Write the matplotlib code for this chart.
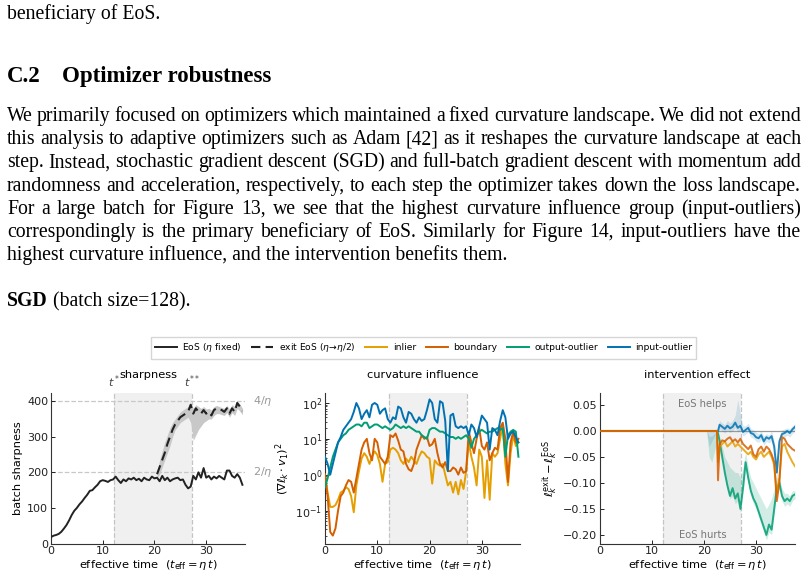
import numpy as np
import matplotlib
matplotlib.use('Agg')
import matplotlib.pyplot as plt
from matplotlib.transforms import blended_transform_factory

# ---- page text ----
heading_num = 'C.2'
heading = 'Optimizer robustness'
prev_tail = 'beneficiary of EoS.'
para_lines = [
    'We primarily focused on optimizers which maintained a fixed curvature landscape.  We did not extend',
    'this analysis to adaptive optimizers such as Adam [42] as it reshapes the curvature landscape at each',
    'step. Instead, stochastic gradient descent (SGD) and full-batch gradient descent with momentum add',
    'randomness and acceleration, respectively, to each step the optimizer takes down the loss landscape.',
    'For a large batch for Figure 13, we see that the highest curvature influence group (input-outliers)',
    'correspondingly is the primary beneficiary of EoS. Similarly for Figure 14, input-outliers have the',
    'highest curvature influence, and the intervention benefits them.',
]
caption_bold = 'SGD'
caption_rest = ' (batch size=128).'

# ---- sharpness panel ----
t_eos = np.arange(0, 37.5, 0.5)
sharp_eos = [18, 22, 24, 27, 33, 42, 52, 65, 80, 92,
             100, 110, 118, 128, 137, 148, 150, 158, 165, 175,
             178, 176, 173, 178, 180, 188, 178, 170, 180, 175,
             183, 180, 185, 178, 182, 175, 185, 180, 178, 188,
             183, 185, 175, 190, 178, 185, 175, 180, 183, 185,
             178, 180, 165, 155, 160, 190, 180, 200, 185, 212,
             185, 190, 180, 188, 183, 190, 185, 180, 205, 205,
             190, 185, 195, 185, 165]
t_exit = np.arange(20.5, 37.5, 0.5)
sharp_exit = [195, 215, 235, 255, 280, 300, 320, 335, 345, 355,
              360, 365, 370, 390, 365, 380, 370, 365, 375, 365,
              370, 360, 375, 380, 378, 375, 370, 380, 365, 380,
              370, 395, 385, 372]
sharp_exit_hi = [200, 235, 260, 285, 305, 325, 340, 350, 360, 370,
                 375, 380, 385, 395, 380, 390, 385, 380, 385, 378,
                 380, 375, 385, 388, 385, 382, 380, 388, 378, 390,
                 385, 400, 392, 380]
sharp_exit_lo = [185, 195, 215, 235, 255, 275, 300, 320, 330, 340,
                 345, 350, 355, 340, 290, 305, 320, 330, 340, 345,
                 350, 350, 360, 365, 365, 362, 360, 368, 355, 368,
                 360, 380, 372, 362]
t_star, t_star2 = 12.2, 27.2

# ---- curvature influence (log10 of (grad l_k . v1)^2) ----
t_ci = np.arange(0, 37.5, 0.5)
ci_inlier = [0.0, -0.5, -0.9, -0.9, -0.85, -0.7, -0.5, -0.45, -0.35, -0.4,
             -0.6, -1.05, -0.3, 0.1, 0.45, 0.6, 0.5, 0.3, 0.5, 0.65,
             0.55, 0.3, -0.2, 0.3, 0.35, 0.7, 0.75, 0.7, 0.6, 0.4,
             0.3, 0.45, 0.35, 0.5, 0.4, 0.3, 0.5, 0.65, 0.6, 0.5,
             0.45, -0.25, 0.4, 0.3, 0.25, 0.3, 0.0, -0.3, -0.2, -0.5,
             -0.2, -0.55, -0.15, -0.4, 0.1, 0.9, 0.5, 0.2, -0.3, 0.7,
             0.5, -0.65, 0.4, -0.7, 0.6, 0.5, 0.6, 1.0, 1.4, 0.3,
             -0.3, 0.6, 1.1, 0.8, 0.9]
ci_boundary = [0.0, -0.6, -1.6, -1.7, -1.5, -1.0, -0.6, -0.5, -0.3, -0.15,
               -0.2, -0.5, -0.1, 0.3, 0.7, 0.9, 1.0, 0.6, 0.4, 1.0,
               0.9, 0.5, 0.4, 0.3, 0.5, 1.1, 1.05, 1.15, 0.95, 0.7,
               0.65, 0.3, 0.15, 0.1, 0.3, 0.7, 0.9, 1.1, 1.0, 1.05,
               0.8, 0.85, 1.0, 0.6, 0.3, 0.2, 0.35, 0.1, 0.1, 0.2,
               0.15, 0.0, 0.2, 0.05, 0.1, 1.2, 0.9, 0.6, 1.0, 1.3,
               0.8, 0.7, 0.9, 0.4, 0.6, 0.75, 0.7, 1.3, 1.45, 1.0,
               -0.2, 0.9, 1.2, 0.9, 1.0]
ci_output = [-0.35, -0.1, 0.2, 0.5, 0.7, 0.9, 1.0, 1.1, 1.15, 1.25,
             1.3, 1.35, 1.4, 1.4, 1.35, 1.45, 1.45, 1.3, 1.35, 1.4,
             1.4, 1.35, 1.3, 1.35, 1.3, 1.25, 1.3, 1.4, 1.35, 1.3,
             1.35, 1.3, 1.35, 1.3, 1.25, 1.2, 1.2, 1.1, 1.05, 1.0,
             1.25, 1.3, 1.3, 1.25, 1.2, 1.2, 1.15, 1.1, 1.05, 1.05,
             1.0, 1.05, 1.0, 1.05, 1.1, 1.0, 0.75, 1.0, 1.1, 1.2,
             1.25, 1.2, 1.15, 1.2, 1.2, 1.25, 1.3, 1.25, 1.3, 0.5,
             1.1, 1.2, 1.25, 1.2, 0.5]
ci_input = [0.5, 0.3, 0.0, 0.3, 0.6, 0.9, 1.05, 1.25, 1.35, 1.45,
            1.55, 1.75, 2.0, 1.85, 1.55, 1.7, 1.8, 1.6, 1.95, 2.0,
            1.95, 1.7, 1.8, 1.85, 1.55, 1.45, 1.6, 1.55, 1.9, 1.85,
            1.6, 1.45, 1.75, 1.7, 1.55, 1.45, 1.6, 1.5, 1.55, 1.8,
            2.1, 2.0, 1.55, 1.45, 2.05, 2.0, 1.5, 0.1, 1.65, 1.7,
            1.35, 1.3, 1.35, 1.3, 1.35, 1.1, 1.4, 1.3, 1.05, 1.35,
            1.65, 1.55, 1.45, 0.7, 1.3, 1.25, 1.1, 1.5, 1.8, 1.6,
            1.0, 1.15, 1.2, 1.05, 0.9]

# ---- intervention effect (l_exit - l_EoS) ----
t_int = [0.0, 20.5, 21.0, 21.5, 22.0, 22.5, 22.7,
         23.0, 23.5, 24.0, 24.5, 25.0, 25.5, 26.0, 26.5, 27.0, 27.5,
         28.0, 28.5, 29.0, 29.5, 30.0, 30.5, 31.0, 31.5, 32.0, 32.5,
         33.0, 33.5, 34.0, 34.5, 35.0, 35.5, 36.0, 36.5, 37.0, 37.5]
ie_inlier = [0, 0, 0, 0, 0, 0, -0.06,
             -0.03, -0.025, -0.02, -0.03, -0.025, -0.02, -0.03, -0.025, -0.03, -0.035,
             -0.04, -0.045, -0.04, -0.05, -0.055, -0.045, -0.04, -0.05, -0.045, -0.04,
             -0.05, -0.065, -0.12, -0.09, -0.03, -0.025, -0.04, -0.05, -0.06, -0.068]
ie_boundary = [0, 0, 0, 0, 0, 0, -0.095,
               -0.025, -0.018, -0.02, -0.015, -0.012, -0.02, -0.016, -0.022, -0.015, -0.025,
               -0.03, -0.035, -0.028, -0.045, -0.05, -0.035, -0.03, -0.04, -0.03, -0.035,
               -0.045, -0.06, -0.135, -0.10, -0.012, -0.015, -0.025, -0.03, -0.035, -0.038]
ie_output = [0, 0, 0, 0, 0, 0, -0.005,
             -0.02, -0.05, -0.08, -0.105, -0.125, -0.11, -0.13, -0.12, -0.15, -0.11,
             -0.06, -0.09, -0.115, -0.13, -0.14, -0.155, -0.17, -0.185, -0.2, -0.18,
             -0.19, -0.15, -0.11, -0.10, -0.125, -0.135, -0.13, -0.135, -0.125, -0.122]
ie_output_hi = [0, 0, -0.01, -0.01, -0.005, 0, 0,
                -0.01, -0.03, -0.05, -0.06, -0.07, -0.075, -0.08, -0.08, -0.09, -0.07,
                -0.04, -0.07, -0.09, -0.1, -0.11, -0.12, -0.13, -0.14, -0.15, -0.14,
                -0.13, -0.11, -0.09, -0.09, -0.11, -0.12, -0.12, -0.125, -0.115, -0.115]
ie_output_lo = [0, 0, -0.05, -0.06, -0.04, -0.02, -0.01,
                -0.03, -0.06, -0.09, -0.115, -0.13, -0.125, -0.14, -0.135, -0.155, -0.12,
                -0.075, -0.1, -0.125, -0.14, -0.15, -0.165, -0.18, -0.195, -0.21, -0.195,
                -0.2, -0.16, -0.12, -0.11, -0.135, -0.145, -0.14, -0.145, -0.135, -0.13]
ie_input = [0, 0, 0, 0, 0, 0, 0.0,
            0.012, 0.008, 0.004, 0.01, 0.005, 0.008, 0.016, 0.006, 0.01, -0.002,
            0.002, 0.006, -0.004, -0.006, -0.012, -0.014, -0.008, -0.02, -0.012, -0.015,
            -0.01, -0.03, -0.08, -0.02, -0.006, -0.004, 0.0, -0.004, 0.003, 0.008]
ie_input_hi = [0, 0, 0, 0, 0, 0, 0.005,
               0.02, 0.015, 0.012, 0.02, 0.015, 0.02, 0.03, 0.06, 0.03, 0.01,
               0.01, 0.015, 0.005, 0.002, -0.002, -0.005, 0.0, -0.01, -0.005, -0.008,
               0.0, -0.02, -0.06, -0.01, 0.002, 0.004, 0.006, 0.004, 0.01, 0.014]
ie_input_lo = [0, 0, -0.03, -0.02, -0.01, 0, -0.005,
               0.004, 0.0, -0.004, 0.002, -0.003, 0.0, 0.006, -0.002, 0.002, -0.01,
               -0.006, -0.002, -0.012, -0.014, -0.02, -0.022, -0.016, -0.028, -0.02, -0.023,
               -0.018, -0.04, -0.095, -0.03, -0.014, -0.012, -0.008, -0.012, -0.005, 0.0]

group_names = ['inlier', 'boundary', 'output-outlier', 'input-outlier']
group_colors = ['#E69F00', '#D55E00', '#009E73', '#0072B2']

W, H = 808, 581
fig = plt.figure(figsize=(W / 100, H / 100), dpi=100)
renderer = fig.canvas.get_renderer()
SERIF = 'Liberation Serif'
TXT = 14.2


def put(x, y, s, **kw):
    return fig.text(x / W, 1 - y / H, s, va='baseline', family=SERIF, **kw)


def justified(y, line, x0=7, x1=801):
    words = line.split()
    texts = [put(0, y, w, fontsize=TXT) for w in words]
    widths = [t.get_window_extent(renderer).width for t in texts]
    gap = (x1 - x0 - sum(widths)) / (len(words) - 1)
    x = x0
    for t, w in zip(texts, widths):
        t.set_x(x / W)
        x += w + gap


put(7, 19, prev_tail, fontsize=TXT)
put(7, 82, heading_num, fontsize=16.5, weight='bold')
put(62, 82, heading, fontsize=16.5, weight='bold')
for i, line in enumerate(para_lines):
    y = 121 + i * 23.2
    if i < len(para_lines) - 1:
        justified(y, line)
    else:
        put(7, y, line, fontsize=TXT)
b = put(7, 306, caption_bold, fontsize=TXT, weight='bold')
bw = b.get_window_extent(renderer).width
put(7 + bw, 306, caption_rest, fontsize=TXT)

# ---- figure panels ----
plt.rcParams['mathtext.fontset'] = 'dejavusans'
FS = 8.0
LFS = 8.2
SHADE = '#f0f0f0'
VLINE = '#c4c4c4'
bottom, height = (H - 543.5) / H, (543.5 - 393) / H
ax1 = fig.add_axes([51 / W, bottom, 194 / W, height])
ax2 = fig.add_axes([325 / W, bottom, 195 / W, height])
ax3 = fig.add_axes([600 / W, bottom, 195 / W, height])
xlab = r'effective time  ($t_{\mathrm{eff}} = \eta\,t$)'

for ax in (ax1, ax2, ax3):
    ax.axvspan(t_star, t_star2, color=SHADE, lw=0, zorder=0)
    for tv in (t_star, t_star2):
        ax.axvline(tv, color=VLINE, ls='--', lw=0.9, zorder=1)
    for s in ('top', 'right'):
        ax.spines[s].set_visible(False)
    for s in ('left', 'bottom'):
        ax.spines[s].set_color('#333333')
        ax.spines[s].set_linewidth(0.8)
    ax.tick_params(direction='in', length=3, width=0.7, labelsize=FS,
                   colors='#222222', pad=2)
    ax.tick_params(which='minor', direction='in', length=1.6, width=0.5)
    ax.set_xticks([0, 10, 20, 30])
    ax.set_xlabel(xlab, fontsize=LFS, labelpad=1)

# sharpness
ax1.set_xlim(0, 37.5)
ax1.set_ylim(0, 423)
for lvl, lab in ((400, r'$4/\eta$'), (200, r'$2/\eta$')):
    ax1.axhline(lvl, color='#c8c8c8', ls='--', lw=0.9, zorder=1)
    ax1.text(1.04, lvl, lab, transform=blended_transform_factory(ax1.transAxes, ax1.transData),
             fontsize=FS, color='#999999', va='center', ha='left')
trans = blended_transform_factory(ax1.transData, ax1.transAxes)
ax1.text(t_star, 1.02, r'$t^*$', transform=trans, ha='center', va='bottom', fontsize=FS, color='#444444')
ax1.text(t_star2, 1.02, r'$t^{**}$', transform=trans, ha='center', va='bottom', fontsize=FS, color='#444444')
ax1.fill_between(t_exit, sharp_exit_lo, sharp_exit_hi, color='#c8c8c8', lw=0, zorder=2)
ax1.plot(t_eos, sharp_eos, color='#222222', lw=1.4, zorder=3)
ax1.plot(t_exit, sharp_exit, color='#222222', lw=1.5, ls=(0, (4.5, 2.5)), zorder=3)
ax1.set_yticks([0, 100, 200, 300, 400])
ax1.set_ylabel('batch sharpness', fontsize=LFS, labelpad=3)
ax1.set_title('sharpness', fontsize=LFS, pad=11)

# curvature influence
ax2.set_yscale('log')
ax2.set_xlim(0, 37.3)
ax2.set_ylim(0.012, 190)
for name, col, vals in zip(group_names, group_colors,
                           (ci_inlier, ci_boundary, ci_output, ci_input)):
    ax2.plot(t_ci, 10 ** np.array(vals), color=col, lw=1.4, zorder=3)
ax2.set_yticks([0.1, 1, 10, 100])
ax2.set_ylabel(r'$(\nabla \ell_k \cdot v_1)^2$', fontsize=LFS, labelpad=2)
ax2.set_title('curvature influence', fontsize=LFS, pad=11)

# intervention effect
ax3.set_xlim(0, 37.5)
ax3.set_ylim(-0.2165, 0.073)
ax3.axhline(0, color='#999999', lw=0.9, zorder=1)
ax3.fill_between(t_int, ie_output_lo, ie_output_hi, color='#009E73', alpha=0.18, lw=0, zorder=2)
ax3.fill_between(t_int, ie_input_lo, ie_input_hi, color='#0072B2', alpha=0.15, lw=0, zorder=2)
order = [3, 2, 0, 1]
ie_vals = [ie_inlier, ie_boundary, ie_output, ie_input]
for k in order:
    ax3.plot(t_int, ie_vals[k], color=group_colors[k], lw=1.4, alpha=0.85, zorder=3)
ax3.set_yticks([-0.2, -0.15, -0.1, -0.05, 0.0, 0.05])
ax3.set_yticklabels(['\u22120.20', '\u22120.15', '\u22120.10', '\u22120.05', '0.00', '0.05'])
mid = (t_star + t_star2) / 2
ax3.text(mid, 0.052, 'EoS helps', ha='center', va='center', fontsize=FS - 0.8, color='#777777')
ax3.text(mid, -0.2, 'EoS hurts', ha='center', va='center', fontsize=FS - 0.8, color='#777777')
ax3.set_ylabel(r'$\ell_k^{\mathrm{exit}} - \ell_k^{\mathrm{EoS}}$', fontsize=LFS, labelpad=2)
ax3.set_title('intervention effect', fontsize=LFS, pad=11)

# shared legend
handles = [plt.Line2D([], [], color='#222222', lw=1.4),
           plt.Line2D([], [], color='#222222', lw=1.5, ls=(0, (4.5, 2.5)))]
handles += [plt.Line2D([], [], color=c, lw=1.4) for c in group_colors]
labels = [r'EoS ($\eta$ fixed)', r'exit EoS ($\eta\!\rightarrow\!\eta/2$)'] + group_names
fig.legend(handles, labels, loc='center', bbox_to_anchor=(423.5 / W, 1 - 348 / H),
           ncol=6, fontsize=6.6, frameon=True, fancybox=False, edgecolor='#cccccc',
           handlelength=2.4, columnspacing=1.05, handletextpad=0.6, borderpad=0.45)

fig.savefig('out.png', dpi=100)
